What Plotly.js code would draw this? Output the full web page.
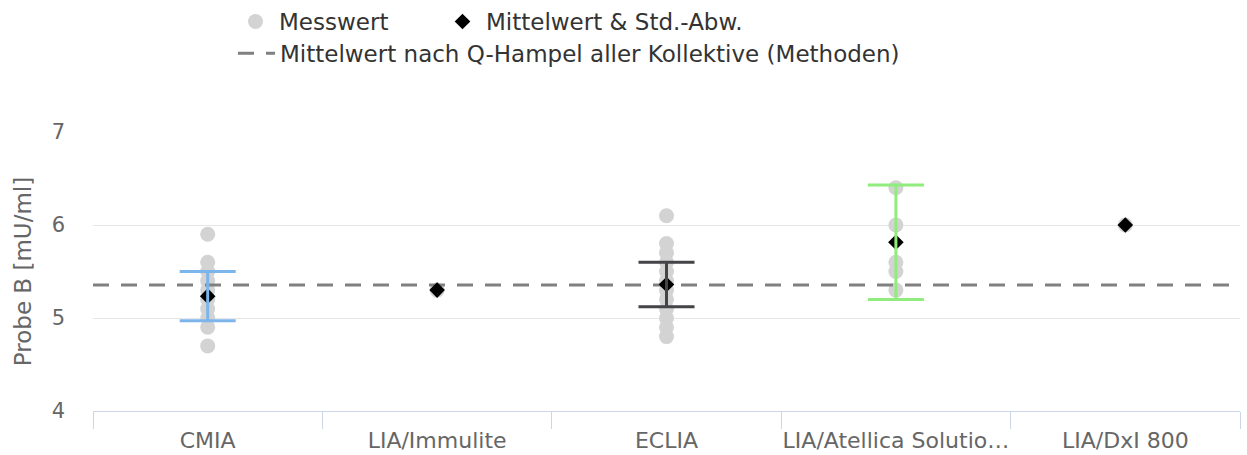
<!DOCTYPE html>
<html>
<head>
<meta charset="utf-8">
<script src="https://cdn.plot.ly/plotly-3.0.1.min.js"></script>
<style>html,body{margin:0;padding:0;background:#fff;}#chart{width:1247px;height:455px;}</style>
</head>
<body>
<div id="chart"></div>
<script>
// ---- data ----
const categories = ["CMIA", "LIA/Immulite", "ECLIA", "LIA/Atellica Solutio…", "LIA/DxI 800"];
const measCMIA = [5.9, 5.6, 5.5, 5.4, 5.3, 5.2, 5.1, 5.0, 4.9, 4.7];
const measImmulite = [5.3];
const measECLIA = [6.1, 5.8, 5.7, 5.6, 5.5, 5.4, 5.3, 5.2, 5.1, 5.0, 4.9, 4.8];
const measAtellica = [6.4, 6.0, 5.6, 5.5, 5.3];
const measDxI = [6.0];
const means = [5.235, 5.3, 5.36, 5.815, 6.0];
const sds = [0.265, null, 0.24, 0.615, null];
const sdColors = ["#7cb5ec", "#434348", "#434348", "#90ed7d", "#f7a35c"];
const hampelMean = 5.355;
const yTicks = [4, 5, 6, 7];

const FONT = "DejaVu Sans, sans-serif";
const allMeas = [measCMIA, measImmulite, measECLIA, measAtellica, measDxI];

const px = [], py = [];
allMeas.forEach((arr, i) => arr.forEach(v => { px.push(i); py.push(v); }));

const traces = [];
traces.push({
  type: "scatter", mode: "markers", name: "Messwert",
  x: px, y: py,
  marker: {symbol: "circle", size: 15, color: "#d3d3d3"},
  legend: "legend", hoverinfo: "y"
});
traces.push({
  type: "scatter", mode: "lines", name: "Mittelwert nach Q-Hampel aller Kollektive (Methoden)",
  x: [-0.5, categories.length - 0.5], y: [hampelMean, hampelMean],
  line: {color: "#808080", width: 3, dash: "16px,12px"},
  legend: "legend2", hoverinfo: "skip"
});
traces.push({
  type: "scatter", mode: "markers", name: "Mittelwert & Std.-Abw.",
  x: categories.map((c, i) => i), y: means,
  marker: {symbol: "diamond", size: 12, color: "#000000"},
  legend: "legend3", hoverinfo: "y"
});
categories.forEach((c, i) => {
  if (sds[i] == null) return;
  traces.push({
    type: "scatter", mode: "markers", showlegend: false,
    x: [i], y: [means[i]],
    marker: {size: 2, opacity: 0},
    error_y: {type: "data", array: [sds[i]], visible: true, color: sdColors[i], thickness: 3, width: 28},
    hoverinfo: "skip"
  });
});

const legendBase = (x, y) => ({
  orientation: "h", xref: "container", yref: "container",
  x: x, y: y, xanchor: "left", yanchor: "top",
  font: {family: FONT, size: 23, color: "#333333"},
  bgcolor: "rgba(0,0,0,0)", itemclick: false, itemwidth: 37
});

const layout = {
  width: 1247, height: 455,
  margin: {l: 93, r: 7, t: 132, b: 44},
  paper_bgcolor: "#ffffff", plot_bgcolor: "#ffffff",
  font: {family: FONT, size: 18, color: "#333333"},
  showlegend: true,
  legend: legendBase(232 / 1247, 1.0),
  legend3: legendBase(439 / 1247, 1.0),
  legend2: legendBase(233 / 1247, 0.93),
  xaxis: {
    range: [-0.5, categories.length - 0.5],
    tickmode: "array", tickvals: categories.map((c, i) => i), ticktext: categories,
    ticks: "", showgrid: false, zeroline: false,
    showline: true, linecolor: "#ccd6eb", linewidth: 1,
    tickfont: {family: FONT, size: 22, color: "#666666"},
    ticklabelstandoff: 10,
    minor: {tick0: -0.5, dtick: 1, ticks: "outside", ticklen: 17, tickwidth: 1, tickcolor: "#ccd6eb", showgrid: false},
    fixedrange: true
  },
  yaxis: {
    range: [4, 7], tickmode: "array", tickvals: yTicks,
    showgrid: true, gridcolor: "#e6e6e6", gridwidth: 1, zeroline: false,
    ticks: "", ticklabelstandoff: 27,
    tickfont: {family: FONT, size: 21, color: "#666666"},
    title: {text: "Probe B [mU/ml]", font: {family: FONT, size: 23, color: "#666666"}, standoff: 13},
    fixedrange: true
  }
};

Plotly.newPlot("chart", traces, layout, {displayModeBar: false, staticPlot: true});
</script>
</body>
</html>
